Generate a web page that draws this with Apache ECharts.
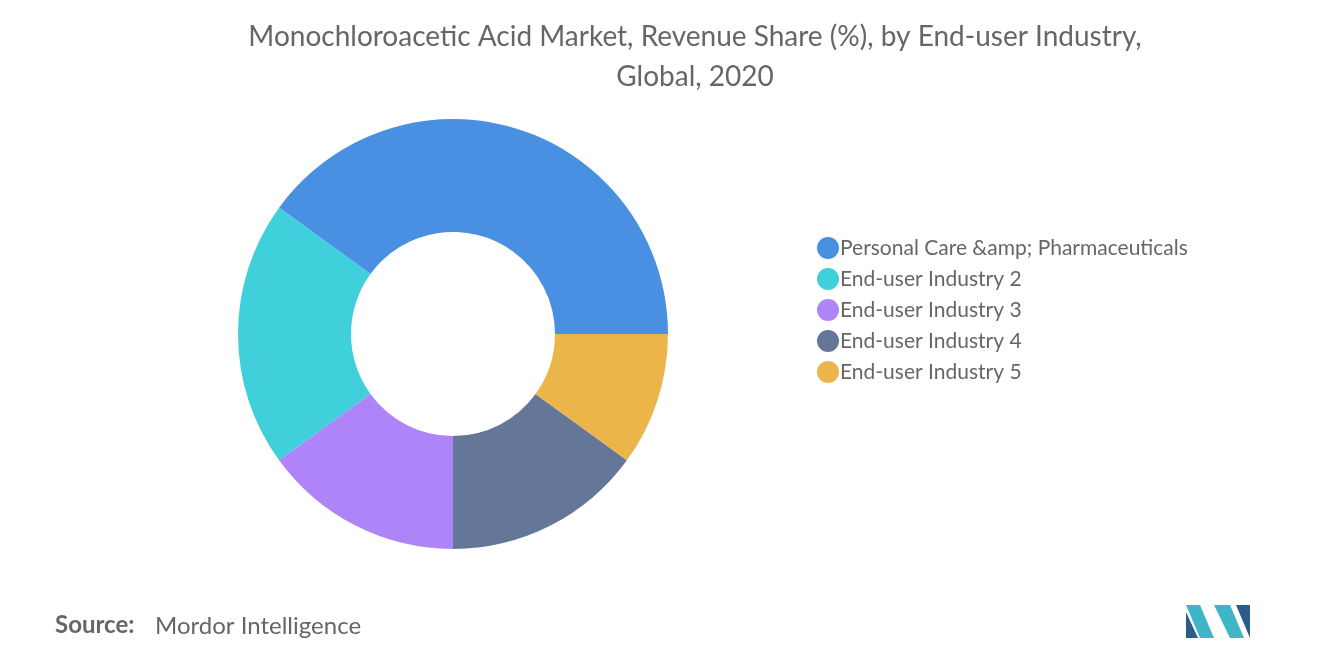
<!DOCTYPE html>
<html><head><meta charset="utf-8">
<script src="https://cdn.jsdelivr.net/npm/echarts@6/dist/echarts.min.js"></script>
<style>html,body{margin:0;padding:0;background:#fff}#c{width:1320px;height:665px}</style>
</head><body><div id="c"></div>
<script>
var categories = ["Personal Care &amp; Pharmaceuticals","End-user Industry 2","End-user Industry 3","End-user Industry 4","End-user Industry 5"];
var values = [40,20,15,15,10];
var colors = ["#4a90e2","#3fd0db","#b084f9","#657799","#ecb54a"];
var chart = echarts.init(document.getElementById('c'));
chart.setOption({
  animation:false,
  title:{text:"Monochloroacetic Acid Market, Revenue Share (%), by End-user Industry,\nGlobal, 2020",left:690,top:12,textAlign:'center',
    textStyle:{fontFamily:'Lato',fontSize:28,fontWeight:'normal',color:'#666',lineHeight:40}},
  legend:{orient:'vertical',left:812,top:232,itemWidth:22,itemHeight:22,itemGap:9,icon:'circle',
    textStyle:{fontFamily:'Lato',fontSize:21,color:'#666',padding:[0,0,0,-4]},data:categories},
  series:[{type:'pie',center:[453,334],radius:[102,215],startAngle:0,clockwise:false,label:{show:false},
    silent:true,
    data:categories.map(function(n,i){return {name:n,value:values[i],itemStyle:{color:colors[i]}};})}],
  graphic:[
    {type:'text',left:55,top:613,style:{text:'Source:',font:'bold 24px Lato',fill:'#666'}},
    {type:'text',left:155,top:614,style:{text:'Mordor Intelligence',font:'24px Lato',fill:'#666'}},
    {type:'polygon',shape:{points:[[1186,605],[1200,605],[1214,638],[1200,638]]},style:{fill:'#3fb6c8'}},
    {type:'polygon',shape:{points:[[1186,612],[1198,638],[1186,638]]},style:{fill:'#2c5d8a'}},
    {type:'polygon',shape:{points:[[1214,605],[1230,605],[1244,638],[1230,638]]},style:{fill:'#3fb6c8'}},
    {type:'polygon',shape:{points:[[1236,605],[1250,605],[1250,638]]},style:{fill:'#2c5d8a'}}
  ]
});
</script></body></html>
